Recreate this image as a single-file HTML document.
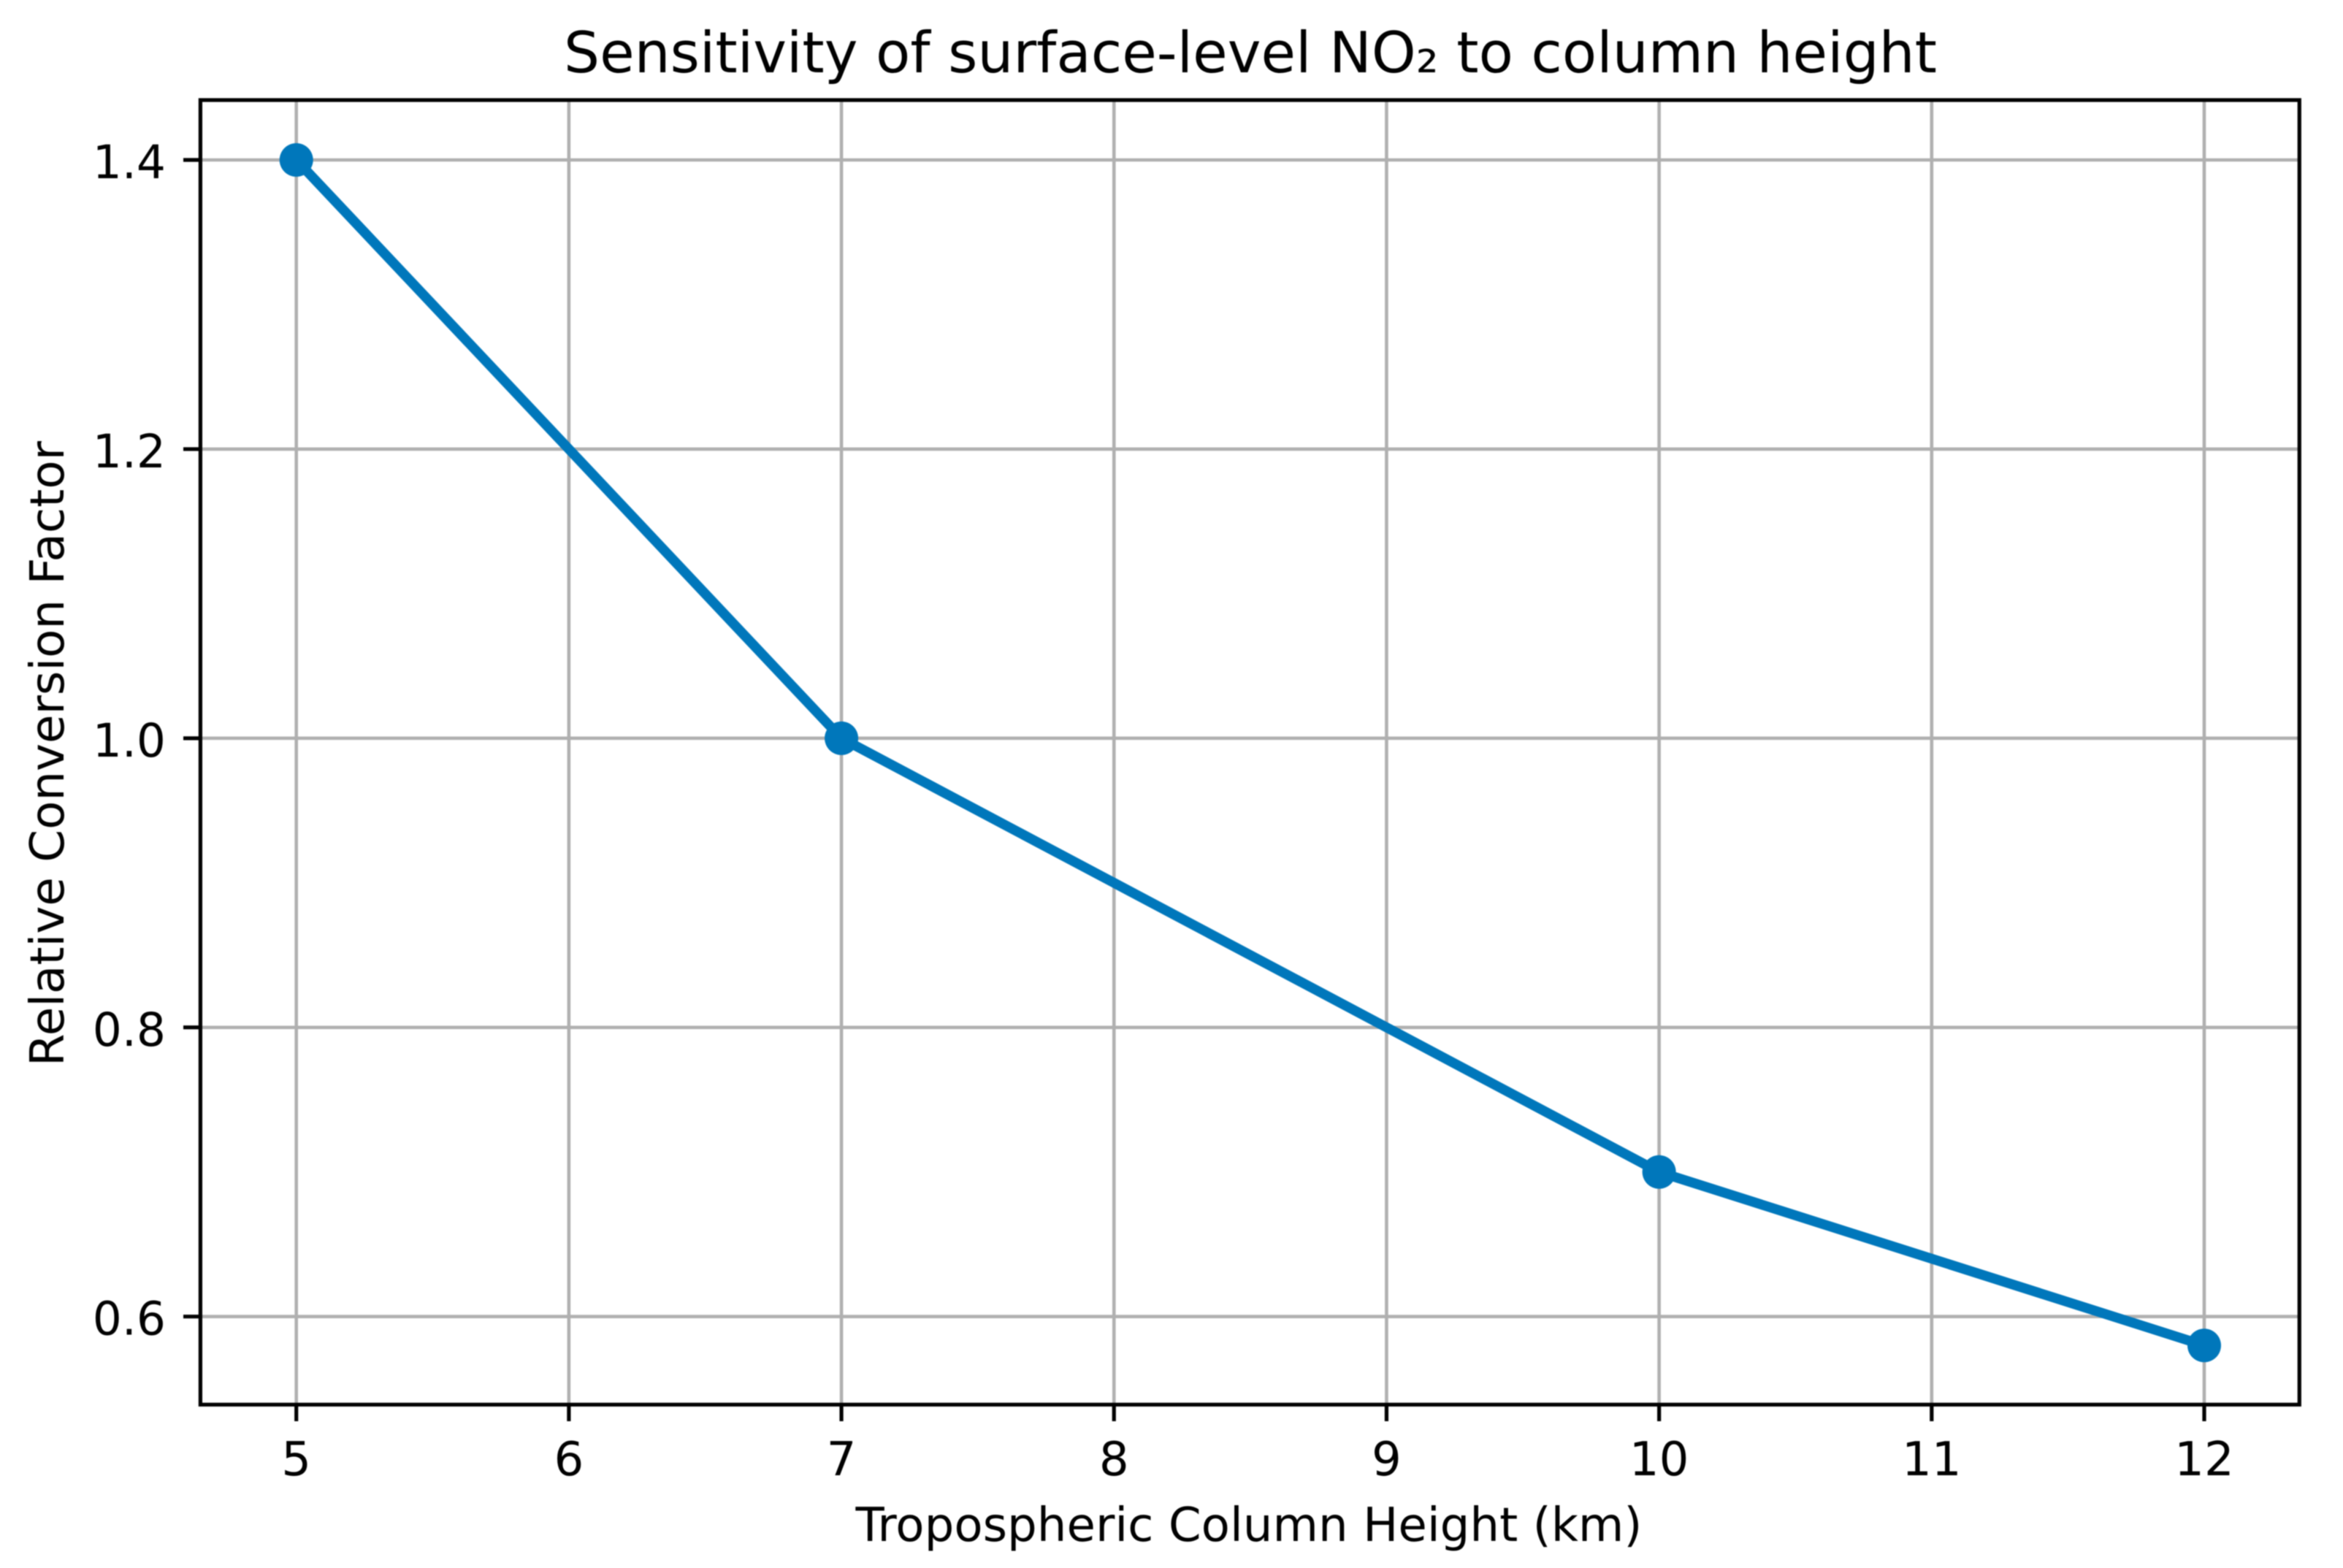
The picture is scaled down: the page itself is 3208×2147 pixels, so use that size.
<!DOCTYPE html>
<html lang="en">
<head>
<meta charset="utf-8">
<title>Sensitivity of surface-level NO₂ to column height</title>
<style>
html,body{margin:0;padding:0;background:#fff;}
#chart{display:block;width:3208px;height:2147px;filter:blur(0.9px);font-family:"DejaVu Sans","Liberation Sans",sans-serif;fill:#000;}
</style>
</head>
<body>
<svg id="chart" xmlns="http://www.w3.org/2000/svg" width="3208" height="2147" viewBox="0 0 3208 2147">
<rect x="0" y="0" width="3208" height="2147" fill="#ffffff"/>
<g id="grid"></g>
<g id="series"></g>
<g id="ticks"></g>
<rect x="274.4" y="137" width="2873.9" height="1786.3" fill="none" stroke="#000" stroke-width="5.2"/>
<text x="1712" y="99" font-size="77.3" text-anchor="middle">Sensitivity of surface-level NO₂ to column height</text>
<text x="1710" y="2110" font-size="64.2" text-anchor="middle">Tropospheric Column Height (km)</text>
<text transform="translate(87 1032) rotate(-90)" font-size="64.2" text-anchor="middle">Relative Conversion Factor</text>
</svg>
<script>
const heights = [5, 7, 10, 12];
const factors = [1.4, 1.0, 0.7, 0.58];
const xTickValues = [5, 6, 7, 8, 9, 10, 11, 12];
const xTickLabels = ['5', '6', '7', '8', '9', '10', '11', '12'];
const yTickValues = [0.6, 0.8, 1.0, 1.2, 1.4];
const yTickLabels = ['0.6', '0.8', '1.0', '1.2', '1.4'];

const NS = 'http://www.w3.org/2000/svg';
function xScale(v) { return 405.7 + (v - 5) * (3018 - 405.7) / 7; }
function yScale(v) { return 219 + (1.4 - v) * (1802.7 - 219) / 0.8; }
function make(parent, tag, attrs) {
  const el = document.createElementNS(NS, tag);
  for (const k in attrs) el.setAttribute(k, attrs[k]);
  parent.appendChild(el);
  return el;
}
const gridG = document.getElementById('grid');
const ticksG = document.getElementById('ticks');
const seriesG = document.getElementById('series');
const gridStyle = { stroke: '#b0b0b0', 'stroke-width': 4.6 };
const tickStyle = { stroke: '#000', 'stroke-width': 5.2 };

xTickValues.forEach(function (v, i) {
  const x = xScale(v);
  const g = make(gridG, 'line', Object.assign({ x1: x, x2: x, y1: 137, y2: 1923.3 }, gridStyle));
  
  
  const t = make(ticksG, 'line', Object.assign({ x1: x, x2: x, y1: 1923.3, y2: 1946 }, tickStyle));
  
  
  const l = make(ticksG, 'text', { x: x, y: 2020, 'font-size': 64.2, 'text-anchor': 'middle' });
  l.textContent = xTickLabels[i];
  
  
});

yTickValues.forEach(function (v, i) {
  const y = yScale(v);
  const g = make(gridG, 'line', Object.assign({ x1: 274.4, x2: 3148.3, y1: y, y2: y }, gridStyle));
  
  
  const t = make(ticksG, 'line', Object.assign({ x1: 251, x2: 274.4, y1: y, y2: y }, tickStyle));
  
  
  const l = make(ticksG, 'text', { x: 227, y: y + 25, 'font-size': 63, 'text-anchor': 'end' });
  l.textContent = yTickLabels[i];
  
  
});

const linePoints = heights.map(function (h, i) { return xScale(h) + ',' + yScale(factors[i]); }).join(' ');
const line = make(seriesG, 'polyline', { points: linePoints, fill: 'none', stroke: '#0077bb', 'stroke-width': 13.5, 'stroke-linejoin': 'round' });


heights.forEach(function (h, i) {
  const c = make(seriesG, 'circle', { cx: xScale(h), cy: yScale(factors[i]), r: 23, fill: '#0077bb' });
  
  
});
</script>
</body>
</html>
